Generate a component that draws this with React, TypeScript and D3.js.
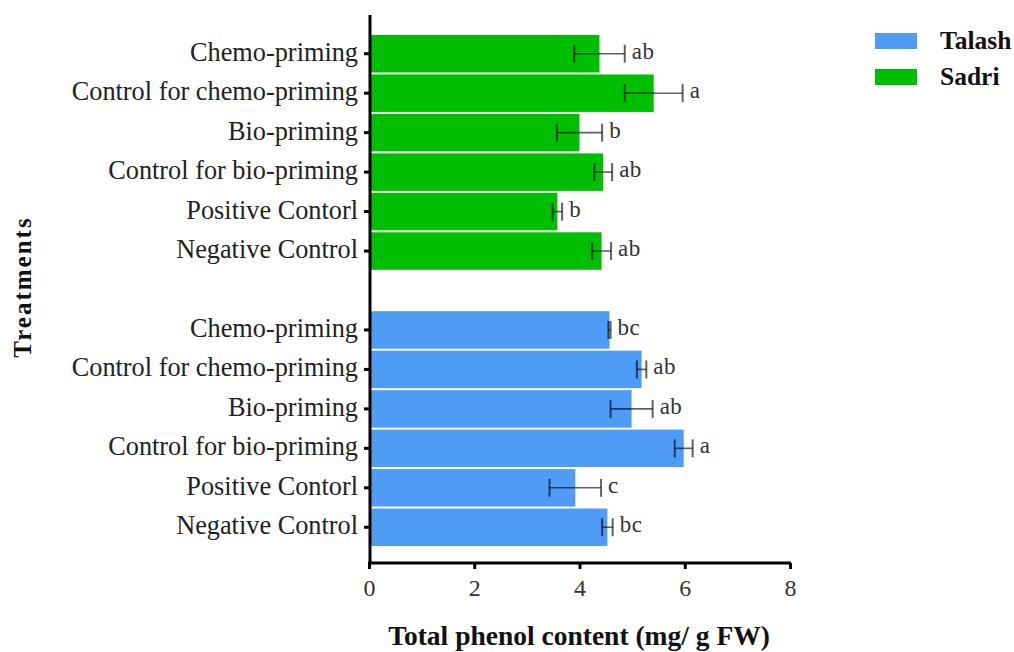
import { useEffect, useRef } from 'react'
import * as d3 from 'd3'

const CATEGORIES = [
  'Chemo-priming',
  'Control for chemo-priming',
  'Bio-priming',
  'Control for bio-priming',
  'Positive Contorl',
  'Negative Control',
]

// Sadri (green, upper block)
const SADRI_MEAN = [4.38, 5.41, 4.0, 4.45, 3.58, 4.42]
const SADRI_SE = [0.48, 0.55, 0.43, 0.17, 0.09, 0.18]
const SADRI_LETTERS = ['ab', 'a', 'b', 'ab', 'b', 'ab']

// Talash (blue, lower block)
const TALASH_MEAN = [4.57, 5.18, 4.99, 5.98, 3.92, 4.53]
const TALASH_SE = [0.02, 0.09, 0.4, 0.17, 0.49, 0.1]
const TALASH_LETTERS = ['bc', 'ab', 'ab', 'a', 'c', 'bc']

const X_TICKS = [0, 2, 4, 6, 8]

const COLORS = {
  Talash: '#4f9cf7',
  Sadri: '#00bf00',
}

const FONT = '"Liberation Serif", "Times New Roman", serif'

type Row = { key: string; label: string; mean: number; se: number; letter: string; series: 'Talash' | 'Sadri' }

export default function App() {
  const svgRef = useRef<SVGSVGElement>(null)

  useEffect(() => {
    if (!svgRef.current) return
    const svg = d3.select(svgRef.current)
    svg.selectAll('*').remove()

    const rows: Row[] = [
      ...CATEGORIES.map((c, i) => ({
        key: 'S' + i, label: c, mean: SADRI_MEAN[i], se: SADRI_SE[i], letter: SADRI_LETTERS[i], series: 'Sadri' as const,
      })),
      ...CATEGORIES.map((c, i) => ({
        key: 'T' + i, label: c, mean: TALASH_MEAN[i], se: TALASH_SE[i], letter: TALASH_LETTERS[i], series: 'Talash' as const,
      })),
    ]
    // one empty slot between the two groups
    const keys = [...rows.slice(0, 6).map(r => r.key), 'gap', ...rows.slice(6).map(r => r.key)]

    const x = d3.scaleLinear().domain([0, 8]).range([369, 790])
    const y = d3.scaleBand<string>().domain(keys).range([34, 547]).paddingInner(0.05).paddingOuter(0.025)
    const axisY = 563

    // Bars
    svg.append('g')
      .selectAll('rect')
      .data(rows)
      .enter()
      .append('rect')
      .attr('x', x(0))
      .attr('y', d => y(d.key)!)
      .attr('width', d => x(d.mean) - x(0))
      .attr('height', y.bandwidth())
      .attr('fill', d => COLORS[d.series])

    // Error bars
    const err = svg.append('g').attr('stroke', '#000').attr('stroke-opacity', 0.62)
    rows.forEach(d => {
      const cy = y(d.key)! + y.bandwidth() / 2
      const x1 = x(d.mean - d.se)
      const x2 = x(d.mean + d.se)
      err.append('line').attr('x1', x1).attr('x2', x2).attr('y1', cy).attr('y2', cy).attr('stroke-width', 1.6)
      err.append('line').attr('x1', x1).attr('x2', x1).attr('y1', cy - 9).attr('y2', cy + 9).attr('stroke-width', 2)
      err.append('line').attr('x1', x2).attr('x2', x2).attr('y1', cy - 9).attr('y2', cy + 9).attr('stroke-width', 2)
    })

    // Significance letters
    svg.append('g')
      .selectAll('text')
      .data(rows)
      .enter()
      .append('text')
      .attr('x', d => x(d.mean + d.se) + 7)
      .attr('y', d => y(d.key)! + y.bandwidth() / 2 + 5)
      .style('font-family', FONT)
      .style('font-size', '23px')
      .attr('letter-spacing', 0.5)
      .attr('fill', '#333')
      .text(d => d.letter)

    // Y axis line + ticks
    svg.append('line')
      .attr('x1', 370).attr('x2', 370)
      .attr('y1', 15).attr('y2', axisY + 1)
      .attr('stroke', '#000').attr('stroke-width', 3)

    svg.append('g')
      .selectAll('line')
      .data(rows)
      .enter()
      .append('line')
      .attr('x1', 364).attr('x2', 370)
      .attr('y1', d => y(d.key)! + y.bandwidth() / 2)
      .attr('y2', d => y(d.key)! + y.bandwidth() / 2)
      .attr('stroke', '#000').attr('stroke-width', 3)

    // Category labels
    svg.append('g')
      .selectAll('text')
      .data(rows)
      .enter()
      .append('text')
      .attr('x', 358)
      .attr('y', d => y(d.key)! + y.bandwidth() / 2 + 7)
      .attr('text-anchor', 'end')
      .style('font-family', FONT)
      .style('font-size', '26.3px')
      .attr('fill', '#222')
      .text(d => d.label)

    // X axis
    const xAxis = d3.axisBottom(x).tickValues(X_TICKS).tickSize(6).tickPadding(10).tickFormat(d3.format('d'))
    const gx = svg.append('g').attr('transform', `translate(0,${axisY})`).call(xAxis)
    gx.select('.domain').attr('stroke', '#000').attr('stroke-width', 3).attr('d', `M${x(0) - 1},0H${x(8) + 1}`)
    gx.selectAll('.tick line').attr('stroke', '#000').attr('stroke-width', 3)
    gx.selectAll('.tick text')
      .style('font-family', FONT)
      .style('font-size', '24px')
      .attr('fill', '#333')

    // Axis titles
    svg.append('text')
      .attr('x', 579)
      .attr('y', 645)
      .attr('text-anchor', 'middle')
      .style('font-family', FONT)
      .style('font-weight', 'bold')
      .style('font-size', '27.5px')
      .attr('fill', '#111')
      .text('Total phenol content (mg/ g FW)')

    svg.append('text')
      .attr('transform', 'translate(31,287) rotate(-90)')
      .attr('text-anchor', 'middle')
      .style('font-family', FONT)
      .style('font-weight', 'bold')
      .style('font-size', '25px')
      .attr('letter-spacing', 2)
      .attr('fill', '#111')
      .text('Treatments')

    // Legend
    const legend = svg.append('g')
    const legendItems: ('Talash' | 'Sadri')[] = ['Talash', 'Sadri']
    legendItems.forEach((name, i) => {
      const ly = 33 + i * 36
      legend.append('rect')
        .attr('x', 875).attr('y', ly)
        .attr('width', 42).attr('height', 16)
        .attr('fill', COLORS[name])
      legend.append('text')
        .attr('x', 940).attr('y', ly + 16)
        .style('font-family', FONT)
        .style('font-weight', 'bold')
        .style('font-size', '25.5px')
        .attr('fill', '#111')
        .text(name)
    })
  }, [])

  return (
    <svg
      ref={svgRef}
      width={1014}
      height={652}
      style={{ position: 'absolute', left: 0, top: 0, background: '#fff' }}
    />
  )
}
